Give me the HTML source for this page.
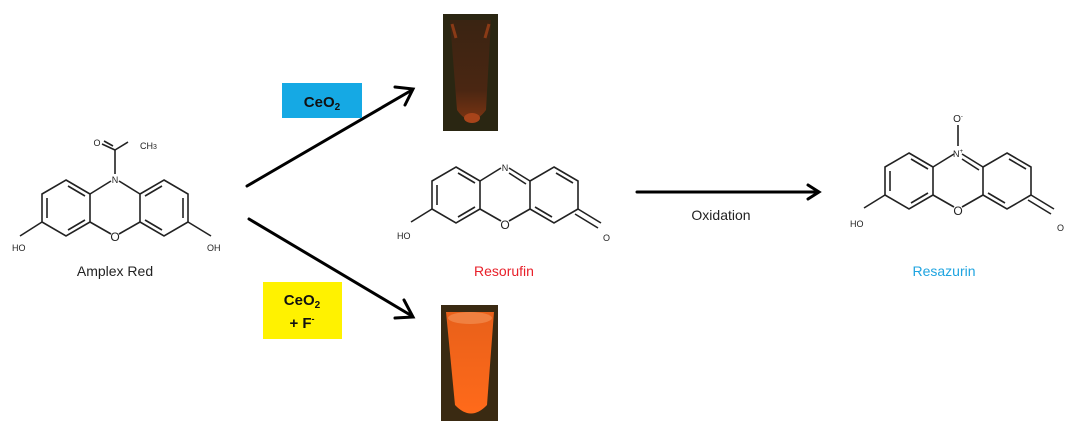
<!DOCTYPE html>
<html><head><meta charset="utf-8"><style>
html,body{margin:0;padding:0;background:#fff;}
svg{display:block;font-family:"Liberation Sans",sans-serif;}
</style></head><body>
<svg width="1083" height="437" viewBox="0 0 1083 437" xmlns="http://www.w3.org/2000/svg">
<defs>
<linearGradient id="t1" x1="0" y1="0" x2="0" y2="1">
<stop offset="0" stop-color="#3a2412"/><stop offset="0.7" stop-color="#4a2612"/><stop offset="1" stop-color="#7a3412"/>
</linearGradient>
<linearGradient id="t2" x1="0" y1="0" x2="0" y2="1">
<stop offset="0" stop-color="#e8601a"/><stop offset="1" stop-color="#ff6a1a"/>
</linearGradient>
</defs>
<g stroke="#222" stroke-width="1.6" fill="none">
<polygon points="66,180 90,194 90,222 66,236 42,222 42,194"/>
<polygon points="164,180 188,194 188,222 164,236 140,222 140,194"/>
<line x1="90" y1="194" x2="111" y2="181"/><line x1="119" y1="181" x2="140" y2="194"/>
<line x1="90" y1="222" x2="111" y2="234"/><line x1="119" y1="234" x2="140" y2="222"/>
<line x1="47" y1="198" x2="47" y2="218"/><line x1="68" y1="186" x2="85" y2="196"/><line x1="68" y1="230" x2="85" y2="220"/>
<line x1="183" y1="198" x2="183" y2="218"/><line x1="162" y1="186" x2="145" y2="196"/><line x1="162" y1="230" x2="145" y2="220"/>
<line x1="42" y1="222" x2="20" y2="236"/><line x1="188" y1="222" x2="211" y2="236"/>
<line x1="115" y1="174" x2="115" y2="150"/><line x1="115" y1="150" x2="102" y2="144"/><line x1="115" y1="150" x2="128" y2="142"/>
<line x1="113" y1="146" x2="104" y2="141"/>
<polygon points="456,167 480,181 480,209 456,223 432,209 432,181"/>
<polygon points="554,167 578,181 578,209 554,223 530,209 530,181"/>
<line x1="480" y1="181" x2="501" y2="168"/><line x1="509" y1="168" x2="530" y2="181"/>
<line x1="480" y1="209" x2="501" y2="221"/><line x1="509" y1="221" x2="530" y2="209"/>
<line x1="437" y1="185" x2="437" y2="205"/><line x1="458" y1="173" x2="475" y2="183"/><line x1="458" y1="217" x2="475" y2="207"/>
<line x1="509" y1="173" x2="526" y2="184"/><line x1="556" y1="173" x2="573" y2="183"/><line x1="535" y1="207" x2="552" y2="217"/>
<line x1="432" y1="209" x2="411" y2="222"/>
<line x1="578" y1="209" x2="601" y2="223"/><line x1="575" y1="214" x2="598" y2="228"/>
<polygon points="909,153 933,167 933,195 909,209 885,195 885,167"/>
<polygon points="1007,153 1031,167 1031,195 1007,209 983,195 983,167"/>
<line x1="933" y1="167" x2="954" y2="154"/><line x1="962" y1="154" x2="983" y2="167"/>
<line x1="933" y1="195" x2="954" y2="207"/><line x1="962" y1="207" x2="983" y2="195"/>
<line x1="890" y1="171" x2="890" y2="191"/><line x1="911" y1="159" x2="928" y2="169"/><line x1="911" y1="203" x2="928" y2="193"/>
<line x1="962" y1="159" x2="979" y2="170"/><line x1="1009" y1="159" x2="1026" y2="169"/><line x1="988" y1="193" x2="1005" y2="203"/>
<line x1="958" y1="146" x2="958" y2="125"/>
<line x1="885" y1="195" x2="864" y2="208"/>
<line x1="1031" y1="195" x2="1054" y2="209"/><line x1="1028" y1="200" x2="1051" y2="214"/>
</g>
<g font-size="9" fill="#222">
<text x="115" y="183" text-anchor="middle">N</text>
<text x="115" y="241" text-anchor="middle" font-size="12">O</text>
<text x="97" y="146" text-anchor="middle">O</text>
<text x="140" y="149">CH<tspan font-size="7">3</tspan></text>
<text x="12" y="251">HO</text><text x="207" y="251">OH</text>
<text x="505" y="171" text-anchor="middle">N</text>
<text x="505" y="229" text-anchor="middle" font-size="12">O</text>
<text x="397" y="239">HO</text><text x="603" y="241">O</text>
<text x="958" y="157" text-anchor="middle">N<tspan font-size="6" dy="-4">+</tspan></text>
<text x="958" y="122" text-anchor="middle" font-size="10">O<tspan font-size="6" dy="-4">-</tspan></text>
<text x="958" y="215" text-anchor="middle" font-size="12">O</text>
<text x="850" y="227">HO</text><text x="1057" y="231">O</text>
</g>
<g font-size="14">
<text x="115" y="276" text-anchor="middle" fill="#222">Amplex Red</text>
<text x="504" y="276" text-anchor="middle" fill="#e8202a">Resorufin</text>
<text x="944" y="276" text-anchor="middle" fill="#1fa4e0">Resazurin</text>
<text x="721" y="220" text-anchor="middle" fill="#222">Oxidation</text>
</g>
<g stroke="#000" stroke-width="3" fill="none" stroke-linecap="round">
<line x1="247" y1="186" x2="412" y2="90"/><polyline points="395,87 413,89 405,105"/>
<line x1="249" y1="219" x2="412" y2="316"/><polyline points="404,300 413,317 395,318"/>
<line x1="637" y1="192" x2="818" y2="192"/><polyline points="808,185 819,192 808,199"/>
</g>
<rect x="282" y="83" width="80" height="35" fill="#15a9e4"/>
<text x="322" y="107" text-anchor="middle" font-size="15" font-weight="bold" fill="#111">CeO<tspan font-size="10" dy="3">2</tspan></text>
<rect x="263" y="282" width="79" height="57" fill="#fff200"/>
<text x="302" y="305" text-anchor="middle" font-size="15" font-weight="bold" fill="#111">CeO<tspan font-size="10" dy="3">2</tspan></text>
<text x="302" y="328" text-anchor="middle" font-size="15" font-weight="bold" fill="#111">+ F<tspan font-size="9" dy="-6">-</tspan></text>
<rect x="443" y="14" width="55" height="117" fill="#2a2612"/>
<path d="M450,20 L491,20 L486,110 Q471,130 457,110 Z" fill="url(#t1)"/>
<path d="M452,24 L456,38 M489,24 L485,38" stroke="#8a3a16" stroke-width="3"/>
<ellipse cx="472" cy="118" rx="8" ry="5" fill="#a8441a"/>
<rect x="441" y="305" width="57" height="116" fill="#3a2a12"/>
<path d="M446,312 L494,312 L487,405 Q471,422 455,405 Z" fill="url(#t2)"/>
<ellipse cx="470" cy="318" rx="22" ry="6" fill="#f08040"/>
</svg>
</body></html>
